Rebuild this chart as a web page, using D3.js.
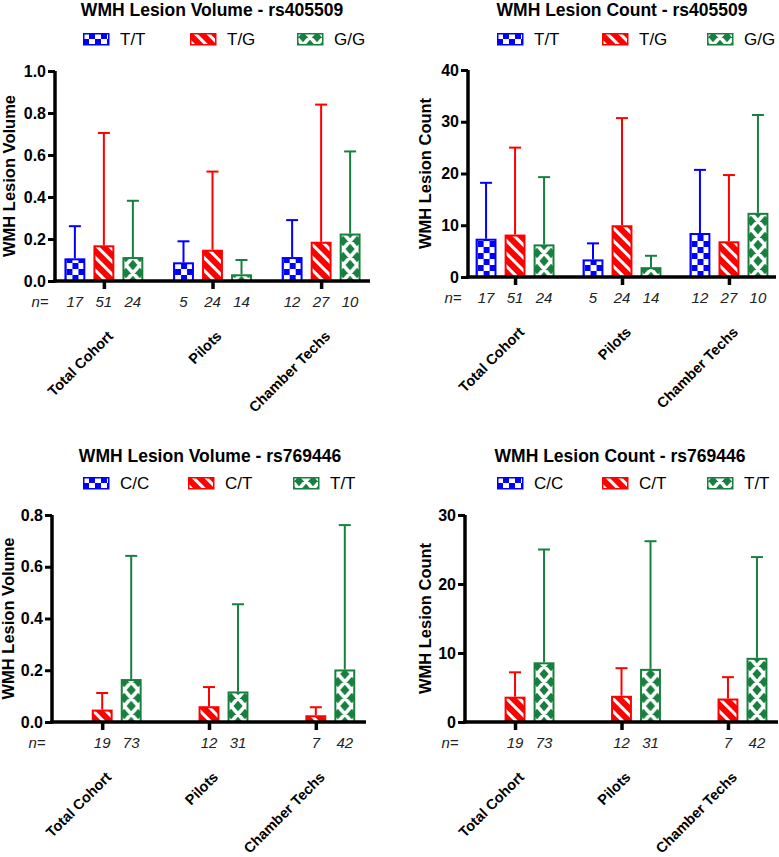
<!DOCTYPE html>
<html>
<head>
<meta charset="utf-8">
<script src="https://d3js.org/d3.v7.min.js"></script>
<style>
    body { margin: 0; background: #fff; }
    svg text { font-family: "Liberation Sans", Arial, Helvetica, sans-serif; }
</style>
</head>
<body>
<div id="chart-area"></div>
<script>
var categories = ["Total Cohort", "Pilots", "Chamber Techs"];
var genotypes405 = ["T/T", "T/G", "G/G"];
var genotypes769 = ["C/C", "C/T", "T/T"];

// rs405509 - volume (mean, upper error), rows = categories, cols = genotypes
var vol405Mean = [[0.108, 0.170, 0.114], [0.089, 0.149, 0.032], [0.114, 0.187, 0.226]];
var vol405Err  = [[0.261, 0.705, 0.382], [0.189, 0.521, 0.100], [0.290, 0.840, 0.617]];
var cnt405Mean = [[7.4, 8.2, 6.3], [3.4, 10.0, 1.9], [8.5, 6.9, 12.4]];
var cnt405Err  = [[18.2, 25.0, 19.3], [6.5, 30.7, 4.1], [20.7, 19.7, 31.3]];
var n405 = [[17, 51, 24], [5, 24, 14], [12, 27, 10]];

// rs769446 - no C/C carriers
var vol769Mean = [[null, 0.048, 0.166], [null, 0.061, 0.118], [null, 0.026, 0.203]];
var vol769Err  = [[null, 0.112, 0.642], [null, 0.135, 0.455], [null, 0.057, 0.761]];
var cnt769Mean = [[null, 3.67, 8.65], [null, 3.8, 7.7], [null, 3.4, 9.3]];
var cnt769Err  = [[null, 7.2, 25.0], [null, 7.8, 26.2], [null, 6.5, 23.9]];
var n769 = [[null, 19, 73], [null, 12, 31], [null, 7, 42]];

var volTicks = [0, 0.2, 0.4, 0.6, 0.8, 1.0];
var volTicks769 = [0, 0.2, 0.4, 0.6, 0.8];
var cntTicks = [0, 10, 20, 30, 40];
var cntTicks769 = [0, 10, 20, 30];

var colors = ["#0000ff", "#ff0000", "#17803f"];
var fills = ["check", "stripe", "cross"];

var svg = d3.select("#chart-area").append("svg")
    .attr("width", 779)
    .attr("height", 857);
var defs = svg.append("defs");
var patternCount = 0;

function makePattern(type, color, x, y) {
    patternCount++;
    var id = "pat" + patternCount;
    var p = defs.append("pattern")
        .attr("id", id)
        .attr("patternUnits", "userSpaceOnUse");

    if (type === "check") {
        p.attr("width", 12).attr("height", 12)
            .attr("patternTransform", "translate(" + x + "," + y + ")");
        p.append("rect").attr("width", 12).attr("height", 12).attr("fill", "#fff");
        p.append("rect").attr("x", 0).attr("y", 0).attr("width", 6).attr("height", 6).attr("fill", color);
        p.append("rect").attr("x", 6).attr("y", 6).attr("width", 6).attr("height", 6).attr("fill", color);
    } else if (type === "stripe") {
        p.attr("width", 9).attr("height", 9)
            .attr("patternTransform", "translate(" + x + "," + y + ") rotate(45)");
        p.append("rect").attr("width", 9).attr("height", 9).attr("fill", color);
        p.append("rect").attr("y", 0).attr("width", 9).attr("height", 3).attr("fill", "#fff");
    } else {
        var w = 14, h = 16;
        p.attr("width", w).attr("height", h)
            .attr("patternTransform", "translate(" + x + "," + y + ")");
        p.append("rect").attr("width", w).attr("height", h).attr("fill", color);
        var d = "";
        [-1, 0, 1].forEach(function(i) {
            [-1, 0, 1].forEach(function(j) {
                var ox = i * w, oy = j * h;
                d += "M" + ox + "," + oy + "L" + (ox + w) + "," + (oy + h);
                d += "M" + (ox + w) + "," + oy + "L" + ox + "," + (oy + h);
            });
        });
        p.append("path").attr("d", d).attr("stroke", "#fff").attr("stroke-width", 3.6);
    }
    return "url(#" + id + ")";
}

function BarPanel(config) {
    var self = this;
    self.c = config;
    self.init();
}

BarPanel.prototype.init = function() {
    var self = this;
    var c = self.c;

    self.x = d3.scalePoint()
        .domain(categories)
        .range([c.left, c.right])
        .padding(c.groupPadding);

    self.xInner = d3.scaleBand()
        .domain(c.genotypes)
        .range([-43.5, 43.5])
        .paddingInner(0.28)
        .paddingOuter(0.14);

    self.y = d3.scaleLinear()
        .domain([0, c.ticks[c.ticks.length - 1]])
        .range([c.bottom, c.top]);

    self.g = svg.append("g");

    self.renderTitle();
    self.renderBars();
    self.renderAxes();
};

BarPanel.prototype.renderTitle = function() {
    var self = this;
    var c = self.c;

    self.g.append("text")
        .attr("x", c.titleX)
        .attr("y", c.titleY)
        .attr("text-anchor", "middle")
        .attr("font-size", 17.5)
        .attr("font-weight", "bold")
        .text(c.title);

    // LEGEND
    c.genotypes.forEach(function(gt, k) {
        var lx = c.legendX + k * c.legendStep;
        var ly = c.legendY - 6;
        self.g.append("rect")
            .attr("x", lx + 0.75)
            .attr("y", ly + 0.75)
            .attr("width", 25)
            .attr("height", 11)
            .attr("fill", makePattern(fills[k], colors[k], lx + 6, ly + 12))
            .attr("stroke", colors[k])
            .attr("stroke-width", 1.5);
        self.g.append("text")
            .attr("x", lx + 37)
            .attr("y", c.legendY)
            .attr("dy", "0.36em")
            .attr("font-size", 17)
            .text(gt);
    });

    self.g.append("text")
        .attr("transform", "translate(" + c.yLabelX + "," + ((c.top + c.bottom) / 2) + ") rotate(-90)")
        .attr("text-anchor", "middle")
        .attr("dy", "0.36em")
        .attr("font-size", 16.5)
        .attr("font-weight", "bold")
        .text(c.yLabel);
};

BarPanel.prototype.renderBars = function() {
    var self = this;
    var c = self.c;
    var bw = self.xInner.bandwidth();

    var rows = [];
    categories.forEach(function(cat, i) {
        c.genotypes.forEach(function(gt, k) {
            rows.push({cat: cat, k: k, gt: gt, mean: c.means[i][k], err: c.errs[i][k], n: c.ns[i][k]});
        });
    });

    rows.forEach(function(d) {
        var bx = self.x(d.cat) + self.xInner(d.gt);
        var cx = bx + bw / 2;

        if (d.n !== null) {
            self.g.append("text")
                .attr("x", cx)
                .attr("y", c.bottom + 26)
                .attr("text-anchor", "middle")
                .attr("font-size", 15)
                .attr("font-style", "italic")
                .attr("fill", "#222")
                .text(d.n);
        }
        if (d.mean === null) return;

        // error bar (upper only)
        self.g.append("line")
            .attr("x1", cx).attr("x2", cx)
            .attr("y1", self.y(d.mean)).attr("y2", self.y(d.err))
            .attr("stroke", colors[d.k])
            .attr("stroke-width", 2);
        self.g.append("line")
            .attr("x1", cx - 6).attr("x2", cx + 6)
            .attr("y1", self.y(d.err)).attr("y2", self.y(d.err))
            .attr("stroke", colors[d.k])
            .attr("stroke-width", 2);

        var px = d.k === 2 ? cx - 7 : bx + 2;
        self.g.append("rect")
            .attr("x", bx + 1)
            .attr("y", self.y(d.mean) + 1)
            .attr("width", bw - 2)
            .attr("height", Math.max(0, self.y(0) - self.y(d.mean) - 1))
            .attr("fill", makePattern(fills[d.k], colors[d.k], px, c.bottom))
            .attr("stroke", colors[d.k])
            .attr("stroke-width", 2);
    });
};

BarPanel.prototype.renderAxes = function() {
    var self = this;
    var c = self.c;

    // Y AXIS
    var yAxis = d3.axisLeft(self.y)
        .tickValues(c.ticks)
        .tickFormat(c.format)
        .tickSize(7)
        .tickPadding(2)
        .tickSizeOuter(0);

    var ya = self.g.append("g")
        .attr("transform", "translate(" + c.left + ",0)")
        .call(yAxis);
    ya.select(".domain").attr("stroke-width", 3.5).attr("d", "M0," + (c.bottom + 1.5) + "V" + c.top);
    ya.selectAll(".tick line").attr("stroke-width", 3);
    ya.selectAll(".tick text")
        .attr("font-size", 16)
        .attr("font-weight", "bold")
        .attr("fill", "#000");

    // X AXIS
    var xAxis = d3.axisBottom(self.x)
        .tickSize(8)
        .tickSizeOuter(0)
        .tickFormat("");

    var xa = self.g.append("g")
        .attr("transform", "translate(0," + c.bottom + ")")
        .call(xAxis);
    xa.select(".domain").attr("stroke-width", 3.5).attr("d", "M" + (c.left - 1.75) + ",0H" + c.right);
    xa.selectAll(".tick line").attr("stroke-width", 3.5);

    self.g.append("text")
        .attr("x", c.left - 15)
        .attr("y", c.bottom + 26)
        .attr("text-anchor", "middle")
        .attr("font-size", 15)
        .attr("font-style", "italic")
        .attr("fill", "#222")
        .text("n=");

    categories.forEach(function(cat) {
        self.g.append("text")
            .attr("transform", "translate(" + (self.x(cat) + 10) + "," + (c.bottom + 56) + ") rotate(-45)")
            .attr("text-anchor", "end")
            .attr("font-size", 14.5)
            .attr("font-weight", "bold")
            .text(cat);
    });
};

var fmt1 = d3.format(".1f");
var fmt0 = d3.format("d");

new BarPanel({
    title: "WMH Lesion Volume - rs405509", yLabel: "WMH Lesion Volume",
    genotypes: genotypes405, means: vol405Mean, errs: vol405Err, ns: n405,
    ticks: volTicks, format: fmt1,
    left: 55, right: 370, top: 71, bottom: 281, groupPadding: 0.45,
    titleX: 212, titleY: 16, legendX: 83, legendY: 39, legendStep: 107, yLabelX: 9
});

new BarPanel({
    title: "WMH Lesion Count - rs405509", yLabel: "WMH Lesion Count",
    genotypes: genotypes405, means: cnt405Mean, errs: cnt405Err, ns: n405,
    ticks: cntTicks, format: fmt0,
    left: 468, right: 776, top: 70, bottom: 277, groupPadding: 0.44,
    titleX: 622, titleY: 16, legendX: 497, legendY: 39, legendStep: 105, yLabelX: 425
});

new BarPanel({
    title: "WMH Lesion Volume - rs769446", yLabel: "WMH Lesion Volume",
    genotypes: genotypes769, means: vol769Mean, errs: vol769Err, ns: n769,
    ticks: volTicks769, format: fmt1,
    left: 52, right: 366, top: 515, bottom: 722, groupPadding: 0.47,
    titleX: 210, titleY: 462, legendX: 83, legendY: 483, legendStep: 105, yLabelX: 8
});

new BarPanel({
    title: "WMH Lesion Count - rs769446", yLabel: "WMH Lesion Count",
    genotypes: genotypes769, means: cnt769Mean, errs: cnt769Err, ns: n769,
    ticks: cntTicks769, format: fmt0,
    left: 465, right: 778, top: 515, bottom: 722, groupPadding: 0.47,
    titleX: 620, titleY: 462, legendX: 497, legendY: 483, legendStep: 105, yLabelX: 425
});
</script>
</body>
</html>
